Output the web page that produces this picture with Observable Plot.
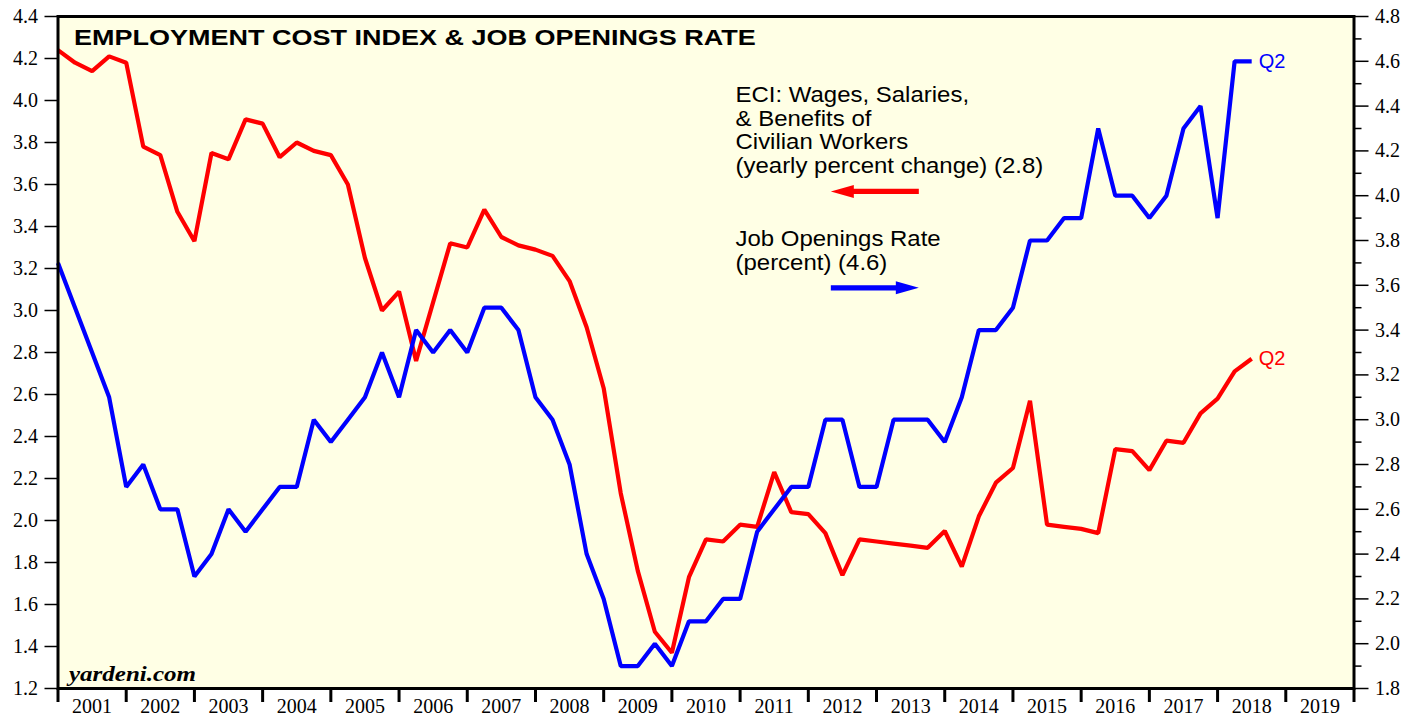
<!DOCTYPE html>
<html><head><meta charset="utf-8">
<script src="https://cdn.jsdelivr.net/npm/d3@7"></script>
<script src="https://cdn.jsdelivr.net/npm/@observablehq/plot@0.6"></script>
<style>
html,body{margin:0;padding:0;background:#fff;}
#chart{position:absolute;left:0;top:0;}
</style></head><body><div id="chart"></div>
<script>
// ---- data (quarterly, first observation 2000 Q4, last 2018 Q2) ----
const firstYear = 2000, firstQuarter = 4;
const eci = [4.24,4.18,4.14,4.21,4.18,3.78,3.74,3.47,3.33,3.75,3.72,3.91,3.89,3.73,3.80,3.76,
  3.74,3.60,3.25,3.00,3.09,2.76,3.04,3.32,3.30,3.48,3.35,3.31,3.29,3.26,3.14,2.92,
  2.63,2.13,1.76,1.47,1.37,1.73,1.91,1.90,1.98,1.97,2.23,2.04,2.03,1.94,1.74,1.91,
  1.90,1.89,1.88,1.87,1.95,1.78,2.02,2.18,2.25,2.57,1.98,1.97,1.96,1.94,2.34,2.33,
  2.24,2.38,2.37,2.51,2.58,2.71,2.77];
const jobOpenings = [3.7,3.5,3.3,3.1,2.7,2.8,2.6,2.6,2.3,2.4,2.6,2.5,2.6,2.7,2.7,3.0,
  2.9,3.0,3.1,3.3,3.1,3.4,3.3,3.4,3.3,3.5,3.5,3.4,3.1,3.0,2.8,2.4,
  2.2,1.9,1.9,2.0,1.9,2.1,2.1,2.2,2.2,2.5,2.6,2.7,2.7,3.0,3.0,2.7,
  2.7,3.0,3.0,3.0,2.9,3.1,3.4,3.4,3.5,3.8,3.8,3.9,3.9,4.3,4.0,4.0,
  3.9,4.0,4.3,4.4,3.9,4.6,4.6];
const yearLabels = [2001,2002,2003,2004,2005,2006,2007,2008,2009,2010,2011,2012,2013,2014,2015,2016,2017,2018,2019];
const yearBounds = [2001,2002,2003,2004,2005,2006,2007,2008,2009,2010,2011,2012,2013,2014,2015,2016,2017,2018,2019,2020];
const leftTicks = [1.2,1.4,1.6,1.8,2.0,2.2,2.4,2.6,2.8,3.0,3.2,3.4,3.6,3.8,4.0,4.2,4.4];
const rightTicks = [1.8,2.0,2.2,2.4,2.6,2.8,3.0,3.2,3.4,3.6,3.8,4.0,4.2,4.4,4.6,4.8];
const rightMinorTicks = [1.9,2.1,2.3,2.5,2.7,2.9,3.1,3.3,3.5,3.7,3.9,4.1,4.3,4.5,4.7];
const leftDomain = [1.2, 4.4], rightDomain = [1.8, 4.8];
const title = "EMPLOYMENT COST INDEX & JOB OPENINGS RATE";
const eciLegend = "ECI: Wages, Salaries,\n& Benefits of\nCivilian Workers\n(yearly percent change) (2.8)";
const jorLegend = "Job Openings Rate\n(percent) (4.6)";
const lastLabel = "Q2";
const source = "yardeni.com";
// legend arrows, in data space (x: year, y: left-axis value)
const arrows = [
  {x: 2013.62, y: 3.567, rotate: -90, color: "#ff0000"},
  {x: 2012.33, y: 3.108, rotate: 90, color: "#0000ff"}
];

// ---- derived ----
const toLeft = v => leftDomain[0] + (v - rightDomain[0]) * (leftDomain[1]-leftDomain[0])/(rightDomain[1]-rightDomain[0]);
const fromLeft = v => rightDomain[0] + (v - leftDomain[0]) * (rightDomain[1]-rightDomain[0])/(leftDomain[1]-leftDomain[0]);
const qTime = i => { const q = firstQuarter - 1 + i; return firstYear + Math.floor(q/4) + ((q % 4) + 1)/4; };
const eciData = eci.map((v,i) => ({t: qTime(i), v}));
const jorData = jobOpenings.map((v,i) => ({t: qTime(i), v: toLeft(v), raw: v}));

const fatArrow = {draw(ctx, l) {
  const hl = 23, hw = 6.5, sw = 2.6;
  ctx.moveTo(-sw, 0); ctx.lineTo(-sw, -(l-hl)); ctx.lineTo(-hw, -(l-hl)); ctx.lineTo(0, -l);
  ctx.lineTo(hw, -(l-hl)); ctx.lineTo(sw, -(l-hl)); ctx.lineTo(sw, 0); ctx.closePath();
}};

const serif = "Liberation Serif, Times New Roman, serif";
const sans = "Liberation Sans, Arial, Helvetica, sans-serif";

const chart = Plot.plot({
  width: 1419, height: 717,
  marginLeft: 57.5, marginRight: 65.5, marginTop: 16, marginBottom: 29,
  style: {background: "#fff", color: "#000", fontFamily: serif, overflow: "visible"},
  x: {domain: [2001, 2020]},
  y: {domain: leftDomain},
  marks: [
    Plot.frame({fill: "#ffffe5", stroke: "none"}),
    Plot.line(eciData, {x: "t", y: "v", stroke: "#ff0000", strokeWidth: 4.2, strokeLinejoin: "miter", strokeLinecap: "butt"}),
    Plot.line(jorData, {x: "t", y: "v", stroke: "#0000ff", strokeWidth: 4.2, strokeLinejoin: "miter", strokeLinecap: "butt"}),
    Plot.text([eciData[eciData.length-1]], {x: "t", y: "v", text: () => lastLabel, dx: 7, textAnchor: "start", fill: "#ff0000", fontSize: 20, fontFamily: sans}),
    Plot.text([jorData[jorData.length-1]], {x: "t", y: "v", text: () => lastLabel, dx: 7, textAnchor: "start", fill: "#0000ff", fontSize: 20, fontFamily: sans}),
    Plot.vector(arrows, {x: "x", y: "y", rotate: "rotate", length: 88, anchor: "start", shape: fatArrow, fill: "color", stroke: "none"}),
    Plot.text([title], {className: "ttl", frameAnchor: "top-left", dx: 16, dy: 12.5, text: d => d, lineAnchor: "top", fontSize: 22.5, fontWeight: "bold", fontFamily: sans, fill: "#000"}),
    Plot.text([eciLegend], {className: "lgd", frameAnchor: "top-left", dx: 677.5, dy: 69, text: d => d, lineAnchor: "top", lineHeight: 1.07, fontSize: 22, fontFamily: sans, fill: "#000"}),
    Plot.text([jorLegend], {className: "lgd", frameAnchor: "top-left", dx: 677.5, dy: 213, text: d => d, lineAnchor: "top", lineHeight: 1.07, fontSize: 22, fontFamily: sans, fill: "#000"}),
    Plot.text([source], {className: "src", frameAnchor: "bottom-left", dx: 11, dy: -8, text: d => d, lineAnchor: "bottom", fontSize: 20, fontStyle: "italic", fontWeight: "bold", fontFamily: serif, fill: "#000"}),
    Plot.axisY(leftTicks, {anchor: "left", tickSize: 13, tickPadding: 7, tickFormat: d => d.toFixed(1), fontSize: 20, fontFamily: serif, strokeWidth: 1.5, label: null}),
    Plot.axisY(rightTicks.map(toLeft), {anchor: "right", tickSize: 14, tickPadding: 7, tickFormat: d => fromLeft(d).toFixed(1), fontSize: 20, fontFamily: serif, strokeWidth: 1.5, label: null}),
    Plot.axisY(rightMinorTicks.map(toLeft), {anchor: "right", tickSize: 7, tickFormat: () => "", strokeWidth: 1.5, label: null}),
    Plot.axisX(yearBounds, {anchor: "bottom", tickSize: 14, tickFormat: () => "", strokeWidth: 3, label: null}),
    Plot.axisX(yearLabels.map(y => y + 0.5), {anchor: "bottom", tickSize: 0, tickPadding: 10, tickFormat: d => String(Math.floor(d)), fontSize: 20, fontFamily: serif, label: null}),
    Plot.frame({stroke: "#000", strokeWidth: 3})
  ]
});
document.getElementById("chart").appendChild(chart);
// horizontal stretch of the annotation texts to match the wider original typeface
const stretch = (sel, k) => chart.querySelectorAll(sel).forEach(el => {
  el.setAttribute("transform", (el.getAttribute("transform") || "") + ` scale(${k},1)`);
});
stretch(".ttl text", 1.2);
stretch(".lgd text", 1.09);
stretch(".src text", 1.25);
</script></body></html>
